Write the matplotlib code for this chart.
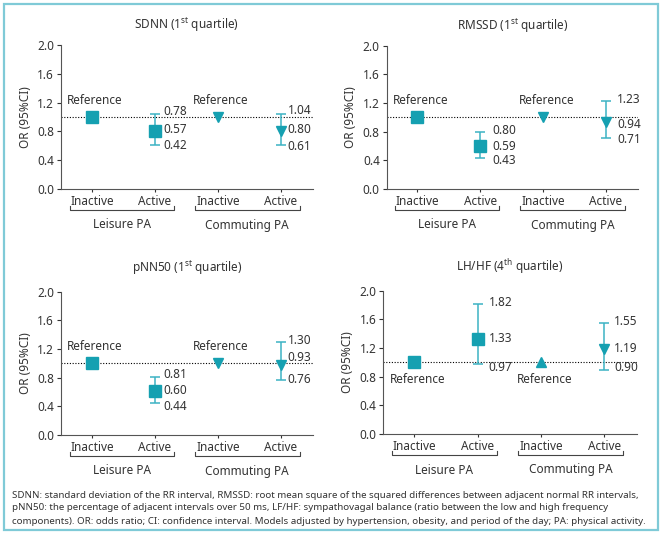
import numpy as np
import matplotlib
matplotlib.use("Agg")
import matplotlib.pyplot as plt
from matplotlib.patches import Rectangle
import matplotlib.transforms as mtransforms
from matplotlib import font_manager

plt.rcParams['font.family'] = ['Noto Sans', 'DejaVu Sans']
plt.rcParams['mathtext.default'] = 'regular'

# ---------------- data ----------------
titles = ['SDNN (1$^{st}$ quartile)', 'RMSSD (1$^{st}$ quartile)',
          'pNN50 (1$^{st}$ quartile)', 'LH/HF (4$^{th}$ quartile)']
categories = ['Inactive', 'Active', 'Inactive', 'Active']
groups = ['Leisure PA', 'Commuting PA']
ylabel = 'OR (95%CI)'
yticks = [0.0, 0.4, 0.8, 1.2, 1.6, 2.0]

# plotted odds ratios (as drawn) : [leisure inactive, leisure active, commuting inactive, commuting active]
sdnn_or = [1.00, 0.80, 1.00, 0.81]
sdnn_lo = [np.nan, 0.61, np.nan, 0.61]
sdnn_hi = [np.nan, 1.04, np.nan, 1.04]
sdnn_txt = [['0.78', '0.57', '0.42'], ['1.04', '0.80', '0.61']]

rmssd_or = [1.00, 0.60, 1.00, 0.94]
rmssd_lo = [np.nan, 0.43, np.nan, 0.71]
rmssd_hi = [np.nan, 0.79, np.nan, 1.23]
rmssd_txt = [['0.80', '0.59', '0.43'], ['1.23', '0.94', '0.71']]

pnn50_or = [1.00, 0.61, 1.00, 0.97]
pnn50_lo = [np.nan, 0.44, np.nan, 0.77]
pnn50_hi = [np.nan, 0.81, np.nan, 1.30]
pnn50_txt = [['0.81', '0.60', '0.44'], ['1.30', '0.93', '0.76']]

lfhf_or = [1.00, 1.32, 1.00, 1.19]
lfhf_lo = [np.nan, 0.97, np.nan, 0.90]
lfhf_hi = [np.nan, 1.82, np.nan, 1.55]
lfhf_txt = [['1.82', '1.33', '0.97'], ['1.55', '1.19', '0.90']]

ref_text = 'Reference'

caption = ["SDNN: standard deviation of the RR interval, RMSSD: root mean square of the squared differences between adjacent normal RR intervals,",
           "pNN50: the percentage of adjacent intervals over 50 ms, LF/HF: sympathovagal balance (ratio between the low and high frequency",
           "components). OR: odds ratio; CI: confidence interval. Models adjusted by hypertension, obesity, and period of the day; PA: physical activity."]

# ---------------- layout / style ----------------
W, H = 663, 534
DPI = 100
MARK = '#15a0b1'
ERR = '#3cb3c3'
TXT = '#333333'
FS = 8.5

try:
    font_manager.findfont('Liberation Sans Narrow', fallback_to_default=False)
    CAP_FAMILY = ['Liberation Sans Narrow', 'DejaVu Sans']
except Exception:
    CAP_FAMILY = ['Noto Sans', 'DejaVu Sans']

panels = [
    dict(data=(sdnn_or, sdnn_lo, sdnn_hi, sdnn_txt), box=(61, 45, 313, 189),
         markers=['s', 's', 'v', 'v'], ref_y=1.23, tpad=11.5,
         lab_y=[[1.07, 0.83, 0.60], [1.09, 0.83, 0.59]], lab_dx=[6, 5]),
    dict(data=(rmssd_or, rmssd_lo, rmssd_hi, rmssd_txt), box=(386.7, 45.7, 638, 189),
         markers=['s', 's', 'v', 'v'], ref_y=1.23, tpad=11.5,
         lab_y=[[0.81, 0.60, 0.40], [1.25, 0.90, 0.69]], lab_dx=[9, 8]),
    dict(data=(pnn50_or, pnn50_lo, pnn50_hi, pnn50_txt), box=(61, 291.7, 313, 435),
         markers=['s', 's', 'v', 'v'], ref_y=1.23, tpad=14,
         lab_y=[[0.85, 0.62, 0.40], [1.325, 1.08, 0.78]], lab_dx=[6, 5]),
    dict(data=(lfhf_or, lfhf_lo, lfhf_hi, lfhf_txt), box=(383.3, 290.7, 636.7, 434),
         markers=['s', 's', '^', 'v'], ref_y=0.76, tpad=14,
         lab_y=[[1.83, 1.335, 0.93], [1.567, 1.20, 0.925]], lab_dx=[8, 7]),
]

fig = plt.figure(figsize=(W / DPI, H / DPI), dpi=DPI)

# border
fig.patches.append(Rectangle((4 / W, 4 / H), (658 - 4) / W, (530 - 4) / H,
                             transform=fig.transFigure, fill=False,
                             edgecolor='#7fcad7', lw=1.6, zorder=0))

x = np.arange(4)
for i, p in enumerate(panels):
    l, t, r, b = p['box']
    ax = fig.add_axes([l / W, 1 - b / H, (r - l) / W, (b - t) / H])
    ors, lo, hi, txt = p['data']
    ax.set_xlim(-0.49, 3.51)
    ax.set_ylim(0, 2.0)
    ax.axhline(1.0, color='black', lw=0.8, ls=(0, (1, 1.5)), zorder=1)
    for j in range(4):
        if not np.isnan(lo[j]):
            ax.errorbar(x[j], ors[j], yerr=[[ors[j] - lo[j]], [hi[j] - ors[j]]],
                        fmt='none', ecolor=ERR, elinewidth=1.1, capsize=3.3,
                        capthick=1.1, zorder=2)
        ms = 9 if p['markers'][j] == 's' else 7
        ax.plot(x[j], ors[j], marker=p['markers'][j], ms=ms, color=MARK,
                mec=MARK, ls='none', zorder=3)
    # reference labels
    for j in (0, 2):
        ax.text(x[j] + 0.05, p['ref_y'], ref_text, ha='center', va='center',
                fontsize=FS, color=TXT)
    # value labels
    for g, j in enumerate((1, 3)):
        for k in range(3):
            ax.annotate(txt[g][k], xy=(x[j], p['lab_y'][g][k]),
                        xytext=(p['lab_dx'][g], 0), textcoords='offset points',
                        ha='left', va='center', fontsize=FS, color=TXT)
    ax.set_yticks(yticks)
    ax.set_yticklabels([f'{v:.1f}' for v in yticks])
    ax.set_xticks(x)
    ax.set_xticklabels(categories)
    ax.tick_params(axis='both', labelsize=FS, colors=TXT, length=3, width=0.8)
    ax.tick_params(axis='x', length=2.5, pad=1.5)
    ax.tick_params(axis='y', pad=2)
    for s in ('top', 'right'):
        ax.spines[s].set_visible(False)
    for s in ('left', 'bottom'):
        ax.spines[s].set_color('#555555')
        ax.spines[s].set_linewidth(0.8)
    ax.set_ylabel(ylabel, fontsize=FS, color=TXT, labelpad=4)
    ax.set_title(titles[i], fontsize=FS, color=TXT, pad=p['tpad'])
    # group brackets
    hpx = b - t
    trans = mtransforms.blended_transform_factory(ax.transData, ax.transAxes)
    yb = -21 / hpx
    ye = -16.5 / hpx
    for g, (x0, x1) in enumerate([(-0.35, 1.30), (1.63, 3.30)]):
        ax.plot([x0, x0, x1, x1], [ye, yb, yb, ye], color='#444444', lw=0.8,
                transform=trans, clip_on=False)
        ax.text((x0 + x1) / 2, -36 / hpx, groups[g], ha='center', va='center',
                fontsize=FS, color=TXT, transform=trans)

# caption, scaled to fit the box width
fig.canvas.draw()
renderer = fig.canvas.get_renderer()
cfs = 8.0
wmax = 0
for line in caption:
    tmp = fig.text(0, 0, line, fontsize=cfs, family=CAP_FAMILY)
    wmax = max(wmax, tmp.get_window_extent(renderer).width)
    tmp.remove()
cfs = cfs * 636 / wmax
for k, line in enumerate(caption):
    fig.text(12 / W, 1 - (495 + 13 * k) / H, line, fontsize=cfs, color=TXT,
             ha='left', va='center', family=CAP_FAMILY)

fig.savefig('out.png', dpi=DPI)
